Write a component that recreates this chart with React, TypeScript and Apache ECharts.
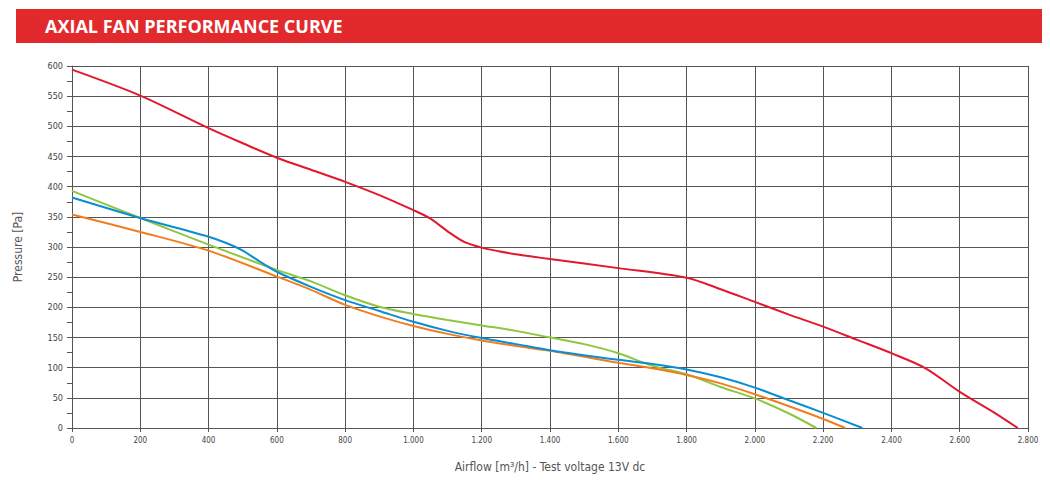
import { useEffect, useRef } from 'react';
import * as echarts from 'echarts';

// airflow [m³/h] / pressure [Pa]
const redFlow = [0, 200, 400, 500, 600, 700, 800, 900, 1000, 1050, 1100, 1150, 1200, 1250, 1300, 1400, 1600, 1800, 1900, 2000, 2100, 2200, 2300, 2400, 2500, 2600, 2700, 2770];
const redPressure = [594, 551, 497, 472, 448, 428, 408, 386, 361, 347, 326, 308, 299, 293, 288, 280, 265, 249, 230, 209, 188, 168, 146, 124, 99, 60, 26, 0];

const blueFlow = [0, 200, 400, 450, 500, 550, 600, 700, 800, 900, 1000, 1100, 1200, 1300, 1400, 1600, 1700, 1800, 1900, 2000, 2100, 2200, 2315];
const bluePressure = [382, 348, 317, 307, 294, 276, 259, 234, 212, 194, 176, 161, 149, 139, 129, 113, 106, 97, 84, 67, 46, 25, 0];

const orangeFlow = [0, 200, 400, 600, 700, 800, 900, 1000, 1100, 1200, 1300, 1400, 1600, 1700, 1800, 1900, 2000, 2100, 2200, 2265];
const orangePressure = [354, 325, 294, 251, 229, 204, 185, 169, 156, 145, 136, 128, 108, 99, 88, 74, 56, 36, 15, 0];

const greenFlow = [0, 200, 400, 600, 700, 800, 900, 1000, 1100, 1200, 1300, 1400, 1500, 1600, 1700, 1800, 1900, 2000, 2100, 2180];
const greenPressure = [393, 348, 304, 262, 243, 220, 201, 189, 179, 170, 161, 150, 139, 124, 103, 89, 68, 49, 24, 0];

const title = 'AXIAL FAN PERFORMANCE CURVE';
const xName = 'Airflow [m³/h] - Test voltage 13V dc';
const yName = 'Pressure [Pa]';

const pairs = (xs: number[], ys: number[]) => xs.map((x, i) => [x, ys[i]]);

const fmtFlow = (v: number) =>
  v >= 1000 ? `${Math.floor(v / 1000)}.${String(v % 1000).padStart(3, '0')}` : String(v);

export default function App() {
  const chartRef = useRef<HTMLDivElement>(null);

  useEffect(() => {
    if (!chartRef.current) return;
    const chart = echarts.init(chartRef.current, null, { renderer: 'svg' });

    const line = (name: string, color: string, data: number[][]) => ({
      name,
      type: 'line' as const,
      data,
      smooth: 0.3,
      showSymbol: false,
      lineStyle: { color, width: 2 },
      itemStyle: { color },
    });

    chart.setOption({
      animation: false,
      backgroundColor: '#fff',
      textStyle: { fontFamily: '"DejaVu Sans Condensed", "DejaVu Sans", sans-serif' },
      graphic: [
        {
          type: 'rect',
          shape: { x: 16, y: 9, width: 1026, height: 34 },
          style: { fill: '#E2292B' },
        },
        {
          type: 'text',
          x: 45,
          y: 26,
          style: {
            text: title,
            fill: '#fff',
            font: 'bold 18px "Open Sans", sans-serif',
            verticalAlign: 'middle',
          },
        },
      ],
      grid: { left: 72, right: 22, top: 66, bottom: 54, containLabel: false },
      xAxis: {
        type: 'value',
        min: 0,
        max: 2800,
        interval: 200,
        name: xName,
        nameLocation: 'middle',
        nameGap: 33,
        nameTextStyle: { color: '#555', fontSize: 12 },
        axisLine: { lineStyle: { color: '#555', width: 1 } },
        axisTick: { show: true, length: 4, lineStyle: { color: '#555' } },
        axisLabel: { color: '#444', fontSize: 8, margin: 8, formatter: fmtFlow },
        splitLine: { lineStyle: { color: '#555', width: 1 } },
      },
      yAxis: {
        type: 'value',
        min: 0,
        max: 600,
        interval: 50,
        name: yName,
        nameLocation: 'middle',
        nameGap: 48,
        nameRotate: 90,
        nameTextStyle: { color: '#555', fontSize: 12 },
        axisLine: { show: true, lineStyle: { color: '#555', width: 1 } },
        axisTick: { show: true, length: 5, lineStyle: { color: '#555' } },
        minorTick: { show: true, splitNumber: 2, length: 5, lineStyle: { color: '#555' } },
        axisLabel: { color: '#444', fontSize: 9, margin: 9 },
        splitLine: { lineStyle: { color: '#555', width: 1 } },
      },
      series: [
        line('green', '#8DC63F', pairs(greenFlow, greenPressure)),
        line('orange', '#F07E1F', pairs(orangeFlow, orangePressure)),
        line('blue', '#0A8ED2', pairs(blueFlow, bluePressure)),
        line('red', '#E3172D', pairs(redFlow, redPressure)),
      ],
    });

    return () => chart.dispose();
  }, []);

  return <div ref={chartRef} style={{ width: 1050, height: 482, margin: -8 }} />;
}
